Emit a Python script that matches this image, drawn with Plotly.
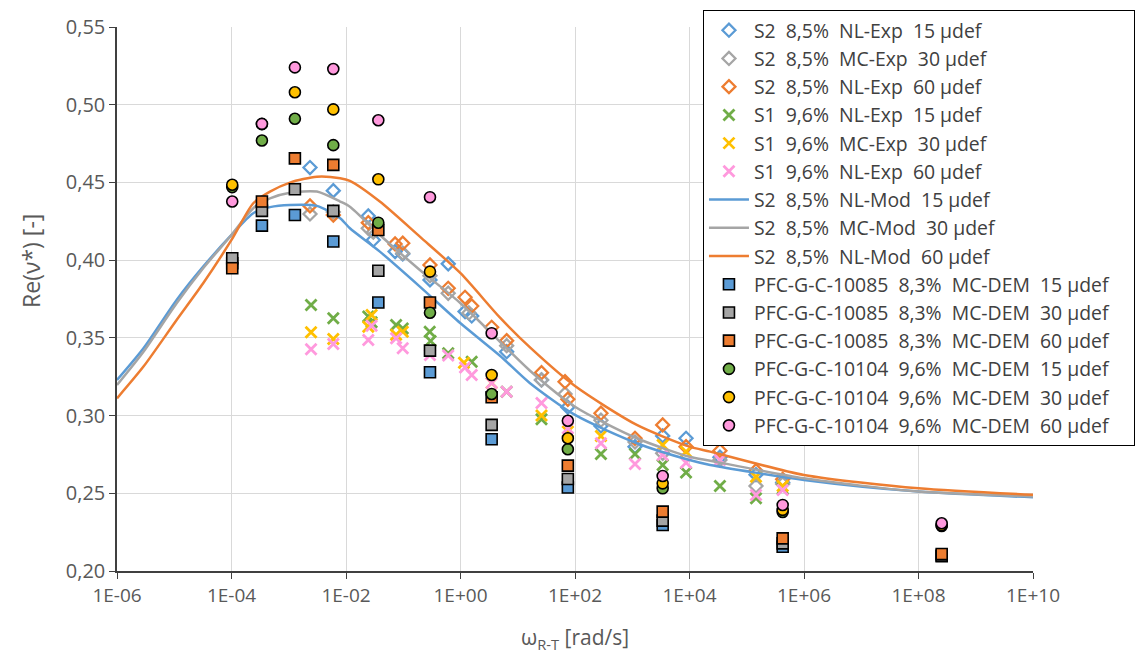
import plotly.graph_objects as go

NB = "\u00a0"

# ---------------- data ----------------
# S2 experimental (diamonds)
s2_nl15_x = [2.35e-3, 6.0e-3, 2.45e-2, 3.0e-2, 7.2e-2, 9.8e-2, 0.293, 0.61, 1.2, 1.57, 6.4, 26, 75, 284, 1117, 3400, 8700, 3.4e4, 1.45e5, 4.24e5]
s2_nl15_y = [0.4596, 0.4447, 0.4284, 0.4130, 0.4055, 0.4040, 0.3873, 0.3976, 0.3669, 0.3641, 0.3411, 0.3229, 0.3054, 0.2933, 0.2800, 0.2869, 0.2854, 0.2732, 0.2620, 0.2570]

s2_mc30_x = [2.35e-3, 6.0e-3, 2.45e-2, 3.0e-2, 9.8e-2, 0.293, 0.61, 1.4, 6.4, 26, 67, 284, 1117, 3400, 3.4e4, 1.45e5, 4.24e5]
s2_mc30_y = [0.4297, 0.4310, 0.4205, 0.4180, 0.4045, 0.3900, 0.3787, 0.3660, 0.3450, 0.3229, 0.3139, 0.2970, 0.2830, 0.2757, 0.2714, 0.2547, 0.2560]

s2_nl60_x = [2.35e-3, 6.0e-3, 2.45e-2, 7.2e-2, 9.8e-2, 0.293, 0.61, 1.2, 1.57, 3.5, 6.4, 26, 67, 75, 284, 1117, 3400, 8700, 3.4e4, 1.45e5, 4.24e5]
s2_nl60_y = [0.4349, 0.4290, 0.4241, 0.4104, 0.4109, 0.3969, 0.3819, 0.3761, 0.3705, 0.3568, 0.3482, 0.3276, 0.3218, 0.3105, 0.3015, 0.2854, 0.2940, 0.2800, 0.2774, 0.2645, 0.2590]

# S1 experimental (crosses)
s1_nl15_x = [2.45e-3, 6.0e-3, 2.45e-2, 2.8e-2, 7.5e-2, 9.8e-2, 0.29, 0.30, 0.61, 1.57, 6.4, 26, 284, 1117, 3400, 8700, 3.4e4, 1.45e5, 4.24e5]
s1_nl15_y = [0.3712, 0.3626, 0.3637, 0.3600, 0.3583, 0.3560, 0.3540, 0.3480, 0.3401, 0.3347, 0.3154, 0.2976, 0.2753, 0.2753, 0.2682, 0.2633, 0.2547, 0.2468, 0.2530]

s1_mc30_x = [2.45e-3, 6.0e-3, 2.45e-2, 2.8e-2, 7.5e-2, 9.8e-2, 1.15, 3.5, 26, 75, 284, 3400, 8700, 1.45e5, 4.24e5]
s1_mc30_y = [0.3536, 0.3493, 0.3572, 0.3647, 0.3520, 0.3540, 0.3340, 0.3210, 0.3000, 0.2897, 0.2869, 0.2811, 0.2768, 0.2607, 0.2547]

s1_nl60_x = [2.45e-3, 6.0e-3, 2.45e-2, 2.8e-2, 7.5e-2, 9.8e-2, 0.293, 0.61, 1.2, 1.57, 3.5, 6.4, 26, 75, 284, 1117, 3400, 8700, 3.4e4, 1.45e5, 4.24e5]
s1_nl60_y = [0.3427, 0.3461, 0.3486, 0.3578, 0.3498, 0.3433, 0.3390, 0.3387, 0.3310, 0.3261, 0.3210, 0.3154, 0.3081, 0.2918, 0.2822, 0.2689, 0.2746, 0.2697, 0.2714, 0.2489, 0.2521]

# Model curves (S2)
mod_x = [1e-6, 2.9e-6, 1.1e-5, 3.2e-5, 1e-4, 2.4e-4, 4.7e-4, 1.05e-3, 3.1e-3, 7.9e-3, 1.17e-2, 3.9e-2, 0.195, 1.0, 4.9, 16.2, 100, 1200, 1e4, 2.3e4, 1e6, 1e8, 1e10]
mod_nl15_y = [0.3229, 0.3433, 0.3744, 0.3958, 0.4162, 0.4302, 0.4341, 0.4355, 0.4349, 0.4270, 0.4205, 0.4055, 0.3830, 0.3594, 0.3385, 0.3210, 0.3004, 0.2822, 0.2714, 0.2682, 0.2586, 0.2511, 0.2474]
mod_mc30_y = [0.3197, 0.3411, 0.3723, 0.3948, 0.4162, 0.4334, 0.4398, 0.4434, 0.4441, 0.4377, 0.4344, 0.4162, 0.3937, 0.3723, 0.3475, 0.3290, 0.3057, 0.2854, 0.2735, 0.2710, 0.2596, 0.2511, 0.2480]
mod_nl60_y = [0.3111, 0.3315, 0.3615, 0.3851, 0.4130, 0.4366, 0.4441, 0.4499, 0.4537, 0.4527, 0.4510, 0.4377, 0.4151, 0.3916, 0.3630, 0.3440, 0.3190, 0.2940, 0.2800, 0.2768, 0.2618, 0.2532, 0.2490]

# DEM simulations
dem_x = [1.03e-4, 3.4e-4, 1.28e-3, 6.0e-3, 3.67e-2, 0.293, 3.5, 75, 3.4e3, 4.24e5, 2.54e8]
dem85_15_y = [0.3980, 0.4222, 0.4290, 0.4120, 0.3727, 0.3279, 0.2848, 0.2537, 0.2296, 0.2156, 0.2095]
dem85_30_y = [0.4012, 0.4317, 0.4456, 0.4317, 0.3932, 0.3418, 0.2940, 0.2592, 0.2324, 0.2178, 0.2100]
dem85_60_y = [0.3948, 0.4377, 0.4655, 0.4613, 0.4194, 0.3727, 0.3118, 0.2678, 0.2382, 0.2210, 0.2109]
dem104_15_y = [0.4470, 0.4770, 0.4910, 0.4740, 0.4241, 0.3662, 0.3139, 0.2783, 0.2532, 0.2380, 0.2290]
dem104_30_y = [0.4485, 0.4875, 0.5080, 0.4970, 0.4520, 0.3926, 0.3261, 0.2854, 0.2564, 0.2393, 0.2295]
dem104_60_y = [0.4377, 0.4877, 0.5240, 0.5230, 0.4900, 0.4405, 0.3530, 0.2967, 0.2611, 0.2425, 0.2307]

x_tickvals = [1e-6, 1e-4, 1e-2, 1e0, 1e2, 1e4, 1e6, 1e8, 1e10]
x_ticktext = ["1E-06", "1E-04", "1E-02", "1E+00", "1E+02", "1E+04", "1E+06", "1E+08", "1E+10"]

BLUE = "#5B9BD5"
GRAY = "#A5A5A5"
ORANGE = "#ED7D31"
GREEN = "#70AD47"
YELLOW = "#FFC000"
PINK = "#FF99DD"


def lab(*parts):
    return (NB * 2).join(parts)


PAD = NB * 4  # keeps the legend box about as wide as in the reference

fig = go.Figure()

for xs, ys, col, name in [
    (s2_nl15_x, s2_nl15_y, BLUE, lab("S2", "8,5%", "NL-Exp", "15 µdef")),
    (s2_mc30_x, s2_mc30_y, GRAY, lab("S2", "8,5%", "MC-Exp", "30 µdef")),
    (s2_nl60_x, s2_nl60_y, ORANGE, lab("S2", "8,5%", "NL-Exp", "60 µdef")),
]:
    fig.add_trace(go.Scatter(x=xs, y=ys, mode="markers", name=name,
                  marker=dict(symbol="diamond-open", size=10, color=col, line=dict(width=2.3, color=col))))

for xs, ys, col, name in [
    (s1_nl15_x, s1_nl15_y, GREEN, lab("S1", "9,6%", "NL-Exp", "15 µdef")),
    (s1_mc30_x, s1_mc30_y, YELLOW, lab("S1", "9,6%", "MC-Exp", "30 µdef")),
    (s1_nl60_x, s1_nl60_y, PINK, lab("S1", "9,6%", "NL-Exp", "60 µdef")),
]:
    fig.add_trace(go.Scatter(x=xs, y=ys, mode="markers", name=name,
                  marker=dict(symbol="x-thin-open", size=11, color=col, line=dict(width=2.8, color=col))))

for ys, col, name in [
    (mod_nl15_y, BLUE, lab("S2", "8,5%", "NL-Mod", "15 µdef")),
    (mod_mc30_y, GRAY, lab("S2", "8,5%", "MC-Mod", "30 µdef")),
    (mod_nl60_y, ORANGE, lab("S2", "8,5%", "NL-Mod", "60 µdef")),
]:
    fig.add_trace(go.Scatter(x=mod_x, y=ys, mode="lines", name=name,
                  line=dict(color=col, width=2.5, shape="spline", smoothing=0.7)))

for ys, col, name in [
    (dem85_15_y, BLUE, lab("PFC-G-C-10085", "8,3%", "MC-DEM", "15 µdef") + PAD),
    (dem85_30_y, GRAY, lab("PFC-G-C-10085", "8,3%", "MC-DEM", "30 µdef") + PAD),
    (dem85_60_y, ORANGE, lab("PFC-G-C-10085", "8,3%", "MC-DEM", "60 µdef") + PAD),
]:
    fig.add_trace(go.Scatter(x=dem_x, y=ys, mode="markers", name=name,
                  marker=dict(symbol="square", size=11, color=col, line=dict(width=1.6, color="black"))))

for ys, col, name in [
    (dem104_15_y, GREEN, lab("PFC-G-C-10104", "9,6%", "MC-DEM", "15 µdef") + PAD),
    (dem104_30_y, YELLOW, lab("PFC-G-C-10104", "9,6%", "MC-DEM", "30 µdef") + PAD),
    (dem104_60_y, PINK, lab("PFC-G-C-10104", "9,6%", "MC-DEM", "60 µdef") + PAD),
]:
    fig.add_trace(go.Scatter(x=dem_x, y=ys, mode="markers", name=name,
                  marker=dict(symbol="circle", size=11, color=col, line=dict(width=1.6, color="black"))))

fig.update_layout(
    width=1140, height=654,
    margin=dict(l=109, r=115, t=19, b=91, autoexpand=False),
    paper_bgcolor="white", plot_bgcolor="white",
    separators=", ",
    font=dict(family="Open Sans, sans-serif", size=19, color="#595959"),
    showlegend=True,
    legend=dict(
        x=0.6397, y=1.031, xanchor="left", yanchor="top",
        bgcolor="white", bordercolor="black", borderwidth=1,
        font=dict(family="Open Sans, sans-serif", size=19.4, color="#404040"),
        traceorder="normal", itemwidth=40, maxheight=600,
    ),
    xaxis=dict(
        type="log", range=[-6, 10],
        tickvals=x_tickvals, ticktext=x_ticktext,
        showgrid=True, gridcolor="#D9D9D9", gridwidth=1,
        showline=True, linecolor="#404040", linewidth=1.5,
        ticks="outside", ticklen=6, tickcolor="#404040",
        tickfont=dict(size=19, color="#595959"),
        title=dict(text="ω<sub>R-T</sub> [rad/s]", font=dict(size=21, color="#595959"), standoff=24),
        zeroline=False,
    ),
    yaxis=dict(
        range=[0.2, 0.55], dtick=0.05, tick0=0.2, tickformat=".2f",
        showgrid=True, gridcolor="#D9D9D9", gridwidth=1,
        showline=True, linecolor="#404040", linewidth=1.5,
        ticks="outside", ticklen=6, tickcolor="#404040",
        tickfont=dict(size=20, color="#595959"),
        zeroline=False,
    ),
    annotations=[dict(
        text="Re(ν*) [-]", textangle=-90, showarrow=False,
        xref="paper", yref="paper", x=-0.0939, y=0.57,
        xanchor="center", yanchor="middle",
        font=dict(size=23, color="#595959"),
    )],
)

fig.write_html("out.html")
